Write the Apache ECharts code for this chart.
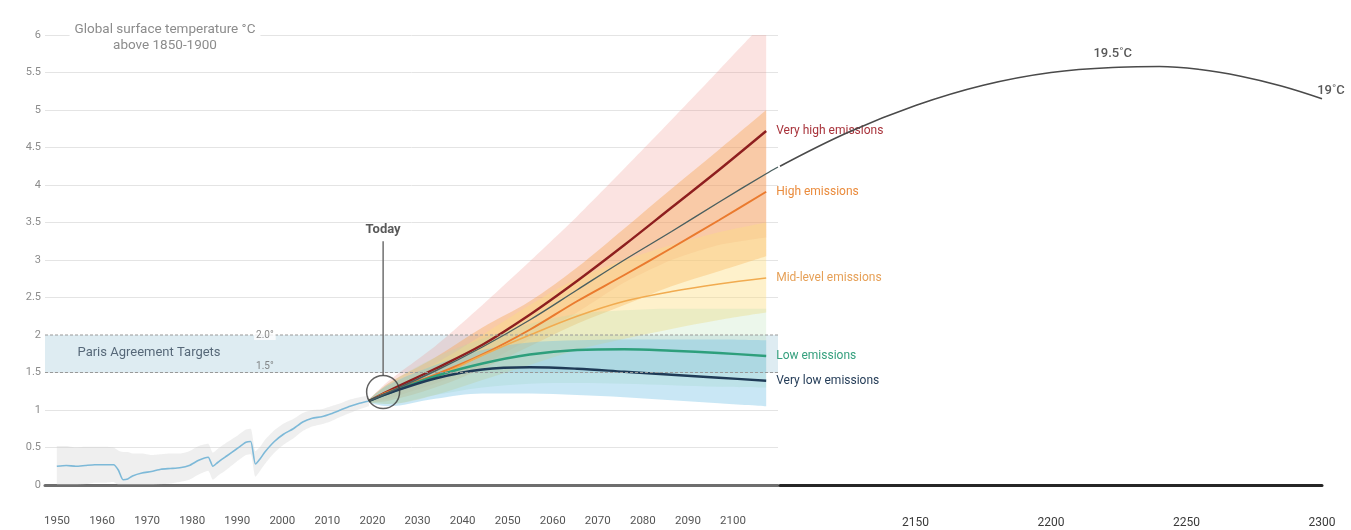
<!DOCTYPE html>
<html>
<head>
<meta charset="utf-8">
<script src="https://cdn.jsdelivr.net/npm/echarts@6/dist/echarts.min.js"></script>
<style>
  html, body { margin: 0; padding: 0; background: #ffffff; }
  #chart { width: 1351px; height: 530px; }
</style>
</head>
<body>
<div id="chart"></div>
<script>
// ---- Observed warming, 1950-2016 (°C above 1850-1900) ----
const historyYears = [1950,1952,1954,1956,1958,1960,1962,1963,1964,1965,1966,1968,1970,1972,1974,1976,1978,1980,1982,1983,1984,1986,1988,1990,1991,1992,1993,1994,1996,1998,2000,2002,2004,2006,2008,2010,2012,2014,2016];
const historyTemp  = [0.25,0.26,0.25,0.26,0.27,0.27,0.27,0.20,0.07,0.08,0.12,0.16,0.18,0.21,0.22,0.23,0.26,0.33,0.37,0.25,0.30,0.39,0.48,0.57,0.58,0.28,0.35,0.44,0.58,0.68,0.75,0.84,0.89,0.91,0.95,1.00,1.05,1.09,1.12];
const historySpread = [0.26,0.26,0.25,0.25,0.24,0.24,0.23,0.23,0.22,0.22,0.21,0.21,0.20,0.20,0.20,0.19,0.19,0.19,0.18,0.18,0.18,0.18,0.17,0.17,0.17,0.17,0.16,0.16,0.15,0.14,0.13,0.12,0.11,0.10,0.10,0.09,0.09,0.08,0.07];

// ---- Scenario projections to 2100 ----
const projYears = [2016,2020,2030,2040,2050,2060,2070,2080,2090,2100];
const veryHighMid = [1.12,1.25,1.55,1.87,2.27,2.72,3.20,3.70,4.20,4.72];
const highMid     = [1.12,1.24,1.47,1.74,2.07,2.45,2.80,3.16,3.53,3.91];
const midLevelMid = [1.12,1.23,1.44,1.73,2.00,2.25,2.45,2.58,2.68,2.76];
const lowMid      = [1.12,1.22,1.45,1.62,1.74,1.80,1.81,1.79,1.76,1.72];
const veryLowMid  = [1.12,1.22,1.42,1.54,1.57,1.55,1.51,1.47,1.43,1.39];

// likely ranges (lower / upper bounds)
const veryHighLow  = [1.10,1.15,1.35,1.60,1.95,2.30,2.70,3.00,3.20,3.30];
const veryHighHigh = [1.14,1.38,1.85,2.40,2.98,3.58,4.22,4.87,5.53,6.20];
const highLow      = [1.10,1.12,1.30,1.55,1.85,2.15,2.40,2.65,2.85,3.05];
const highHigh     = [1.14,1.35,1.70,2.10,2.45,2.90,3.42,3.95,4.47,5.00];
const midLevelLow  = [1.10,1.08,1.20,1.40,1.60,1.80,1.95,2.08,2.20,2.30];
const midLevelHigh = [1.14,1.32,1.62,2.00,2.40,2.75,3.00,3.20,3.37,3.50];
const lowLow       = [1.10,1.08,1.20,1.30,1.35,1.36,1.35,1.33,1.31,1.30];
const lowHigh      = [1.14,1.35,1.70,1.95,2.15,2.28,2.33,2.35,2.35,2.35];
const veryLowLow   = [1.10,1.05,1.15,1.22,1.22,1.20,1.17,1.13,1.09,1.05];
const veryLowHigh  = [1.14,1.33,1.60,1.80,1.90,1.93,1.94,1.94,1.94,1.93];

// ---- Long-term pathway, extended to 2300 ----
const longYears = [2016,2030,2040,2050,2060,2070,2080,2090,2100,2102.5];
const longTemp  = [1.12,1.52,1.84,2.20,2.60,3.00,3.38,3.77,4.15,4.24];
const extYears  = [2100,2125,2150,2175,2200,2225,2240,2255,2270,2285,2300];
const extTemp   = [4.25,4.70,5.06,5.33,5.50,5.57,5.58,5.54,5.45,5.32,5.15];
const extNoteYears = [2225, 2300];
const extNoteTexts = ['19.5˚C', '19˚C'];

// ---- Reference markers ----
const parisLevels = [1.5, 2.0];
const parisLevelLabels = ['1.5°', '2.0°'];
const parisLabelYear = 1994;
const todayYear = 2019;
const todayTemp = 1.24;
const todayLineTop = 3.25;

// ---- Axis tick settings ----
const yMin = 0, yMax = 6, yStep = 0.5;
const xLabelStart = 1950, xLabelEnd = 2100, xLabelStep = 10;
const extStart = 2100, extEnd = 2300, extStep = 50;

const pairs = (xs, ys) => xs.map((x, i) => [x, ys[i]]);
// rows as [temperature, year] so the stack runs on the temperature dimension
const stackRows = (xs, ys) => xs.map((x, i) => [ys[i], x]);
const diff = (hi, lo) => hi.map((v, i) => +(v - lo[i]).toFixed(3));

const FONT = 'Roboto, "Noto Sans", sans-serif';

function rangeArea(name, years, lo, hi, color, z, smooth) {
  const stack = 'range-' + name;
  return [
    { type: 'line', name: name + ' lower', stack, xAxisIndex: 0, yAxisIndex: 0,
      encode: { x: 1, y: 0 },
      data: stackRows(years, lo), smooth, symbol: 'none', silent: true,
      lineStyle: { width: 0, opacity: 0 }, z },
    { type: 'line', name: name + ' range', stack, xAxisIndex: 0, yAxisIndex: 0,
      encode: { x: 1, y: 0 },
      data: stackRows(years, diff(hi, lo)), smooth, symbol: 'none', silent: true,
      lineStyle: { width: 0, opacity: 0 }, areaStyle: { color, opacity: 1 }, z }
  ];
}

function scenario(name, values, color, width, labelColor) {
  return {
    type: 'line', name, xAxisIndex: 0, yAxisIndex: 0,
    data: pairs(projYears, values), smooth: 0.35, symbol: 'none', z: 4,
    lineStyle: { color, width },
    endLabel: { show: true, formatter: '{a}', color: labelColor, fontSize: 12,
                fontFamily: FONT, distance: 10 }
  };
}

function note(value, text, label) {
  return { value, label: Object.assign({ show: true, formatter: text, fontFamily: FONT }, label) };
}

const chart = echarts.init(document.getElementById('chart'), null, { renderer: 'canvas' });

const option = {
  animation: false,
  backgroundColor: '#ffffff',
  textStyle: { fontFamily: FONT },
  title: {
    text: 'Global surface temperature °C\nabove 1850-1900',
    left: 160, top: 21, textAlign: 'center',
    backgroundColor: '#ffffff', padding: [1, 5],
    textStyle: { fontSize: 13.5, fontWeight: 'normal', color: '#8c8c8c', lineHeight: 16, fontFamily: FONT }
  },
  grid: [
    { left: 45, right: 573, top: 35, bottom: 45 },
    { left: 780, right: 29, top: 35, bottom: 45 },
    { left: 57, right: 618, top: 35, bottom: 45 }
  ],
  xAxis: [
    { gridIndex: 0, type: 'value', min: 1947.5, max: 2102.5,
      axisLine: { show: true, onZero: false, lineStyle: { color: '#6e6e6e', width: 3 } },
      axisTick: { show: false }, axisLabel: { show: false }, splitLine: { show: false } },
    { gridIndex: 1, type: 'value', min: extStart, max: extEnd, interval: extStep,
      axisLine: { show: true, onZero: false, lineStyle: { color: '#262626', width: 3 } },
      axisTick: { show: false },
      axisLabel: { showMinLabel: false, margin: 32, color: '#3a3a3a', fontSize: 12, fontFamily: FONT,
                   formatter: v => String(v) },
      splitLine: { show: false } },
    { gridIndex: 2, type: 'value', min: xLabelStart, max: xLabelEnd, interval: xLabelStep,
      axisLine: { show: false }, axisTick: { show: false },
      axisLabel: { margin: 30, color: '#555555', fontSize: 11.5, fontFamily: FONT,
                   formatter: v => String(v) },
      splitLine: { show: false } }
  ],
  yAxis: [
    { gridIndex: 0, type: 'value', min: yMin, max: yMax, interval: yStep,
      axisLine: { show: false }, axisTick: { show: false },
      axisLabel: { color: '#8c8c8c', fontSize: 11, margin: 4, fontFamily: FONT },
      splitLine: { lineStyle: { color: '#e4e4e4', width: 1 } } },
    { gridIndex: 1, type: 'value', min: yMin, max: yMax, show: false, splitLine: { show: false } },
    { gridIndex: 2, type: 'value', min: yMin, max: yMax, show: false, splitLine: { show: false } }
  ],
  series: [
    // Paris Agreement target zone
    { type: 'line', name: 'Paris zone', xAxisIndex: 0, yAxisIndex: 0, data: [], z: 1, silent: true,
      markArea: { silent: true, itemStyle: { color: '#deecf2' },
        data: [[{ xAxis: 1947.5, yAxis: parisLevels[0] }, { xAxis: 2102.5, yAxis: parisLevels[1] }]] } },

    // observed range
    ...rangeArea('Observed', historyYears,
      historyTemp.map((v, i) => +(v - historySpread[i]).toFixed(3)),
      historyTemp.map((v, i) => +(v + historySpread[i]).toFixed(3)),
      'rgba(205,205,205,0.32)', 2, 0.2),

    // projected ranges
    ...rangeArea('Very high', projYears, veryHighLow, veryHighHigh, 'rgba(240,140,130,0.24)', 2, 0.2),
    ...rangeArea('High', projYears, highLow, highHigh, 'rgba(246,168,88,0.42)', 2, 0.35),
    ...rangeArea('Mid', projYears, midLevelLow, midLevelHigh, 'rgba(252,222,130,0.42)', 2, 0.35),
    ...rangeArea('Low', projYears, lowLow, lowHigh, 'rgba(175,222,170,0.24)', 2, 0.35),
    ...rangeArea('Very low', projYears, veryLowLow, veryLowHigh, 'rgba(105,188,228,0.36)', 2, 0.35),

    // target lines
    ...parisLevels.map(level => ({
      type: 'line', xAxisIndex: 0, yAxisIndex: 0, silent: true, symbol: 'none', z: 5,
      data: [[1947.5, level], [2102.5, level]],
      lineStyle: { color: '#999999', width: 1, type: [3, 2] }
    })),

    // observed line
    { type: 'line', name: 'Observed', xAxisIndex: 0, yAxisIndex: 0, data: pairs(historyYears, historyTemp),
      symbol: 'none', smooth: 0.2, lineStyle: { color: '#7db9d8', width: 1.6 }, z: 4 },

    // scenario central estimates
    scenario('Very high emissions', veryHighMid, '#8e1f1f', 2.4, '#a8323a'),
    scenario('High emissions', highMid, '#ea7a2e', 2, '#ea8b3c'),
    scenario('Mid-level emissions', midLevelMid, '#f1ab50', 1.6, '#e6a057'),
    scenario('Low emissions', lowMid, '#2e9f7c', 2.4, '#35a07e'),
    scenario('Very low emissions', veryLowMid, '#1f3b57', 2.4, '#253d58'),

    // long-term pathway
    { type: 'line', name: 'Long-term', xAxisIndex: 0, yAxisIndex: 0, data: pairs(longYears, longTemp),
      symbol: 'none', smooth: 0.35, lineStyle: { color: '#4b5f5f', width: 1.4 }, z: 5 },
    { type: 'line', name: 'Long-term ext', xAxisIndex: 1, yAxisIndex: 1, smooth: 0.4, symbol: 'none', z: 5,
      lineStyle: { color: '#4a4a4a', width: 1.6 }, data: pairs(extYears, extTemp) },

    // today marker
    { type: 'line', name: 'Today', xAxisIndex: 0, yAxisIndex: 0, symbol: 'none', silent: true, z: 6,
      lineStyle: { color: '#6f6f6f', width: 1.5 },
      data: [[todayYear, todayTemp + 0.22], [todayYear, todayLineTop]] },
    { type: 'scatter', xAxisIndex: 0, yAxisIndex: 0, silent: true, z: 7,
      data: [[todayYear, todayTemp]], symbol: 'circle', symbolSize: 33,
      itemStyle: { color: 'rgba(0,0,0,0)', borderColor: '#3a3a3a', borderWidth: 1.5 } },

    // text notes in the main panel
    { type: 'scatter', xAxisIndex: 0, yAxisIndex: 0, silent: true, symbolSize: 0, z: 8,
      data: [
        note([parisLabelYear, parisLevels[1]], parisLevelLabels[1],
          { position: 'inside', backgroundColor: '#ffffff', padding: [0, 2], color: '#6a6a6a', fontSize: 10 }),
        note([parisLabelYear, parisLevels[0]], parisLevelLabels[0],
          { position: 'top', distance: 1, color: '#6a6a6a', fontSize: 10 }),
        note([1969.5, 1.77], 'Paris Agreement Targets',
          { position: 'inside', color: '#34475a', fontSize: 13 }),
        note([todayYear, todayLineTop], 'Today',
          { position: 'top', distance: 5, color: '#2f2f2f', fontSize: 13, fontWeight: 'bold' })
      ] },

    // text notes on the extension
    { type: 'scatter', xAxisIndex: 1, yAxisIndex: 1, silent: true, symbolSize: 0, z: 8,
      data: extNoteYears.map((y, i) => note([y, extTemp[extYears.indexOf(y)]], extNoteTexts[i],
        { position: 'top', distance: i === 0 ? 7 : 2, offset: i === 0 ? [-6, 0] : [9, 0],
          color: '#2e2e2e', fontSize: 13, fontWeight: 500 })) }
  ]
};

chart.setOption(option);
</script>
</body>
</html>
